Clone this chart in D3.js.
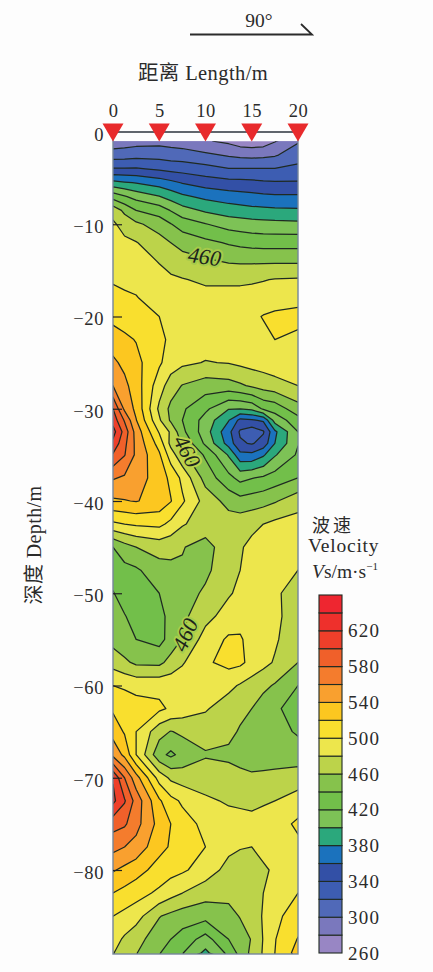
<!DOCTYPE html>
<html><head><meta charset="utf-8">
<script src="https://cdn.jsdelivr.net/npm/d3@7"></script>
<style>
html,body{margin:0;padding:0;background:#fdfdfd}
svg{display:block}
text{font-family:"Liberation Serif","Noto Sans CJK SC",serif;fill:#2b2b2b}
</style></head><body>
<svg id="c" width="433" height="972"></svg>
<script>
const lengths=[0,1.25,2.5,5,6.25,7.5,10,12.5,13.75,15,16.25,17.5,20];
const depths=[1,2.5,4,5.5,7,8.5,10,12,14,16,18,20,22.5,25,27.5,30,31.25,32.5,33.75,35,37.5,40,42.5,45,47.5,50,52.5,55,57.5,60,62.5,65,67.5,70,72.5,75,77.5,80,82.5,85,87.5,89];
const velocity=[
[288,290,292,294,292,290,282,276,270,268,270,279,298],
[310,311,313,312,310,309,304,298,295,294,295,298,311],
[342,342,342,337,334,332,327,321,321,321,321,321,325],
[386,382,379,371,365,359,351,347,346,345,343,342,342],
[432,422,413,401,392,384,375,370,368,366,364,363,363],
[473,455,440,431,419,408,397,390,388,386,385,384,383],
[483,473,464,451,441,431,421,412,410,408,407,406,405],
[488,484,481,468,460,453,445,438,435,433,432,432,432],
[493,490,488,479,473,468,463,458,457,457,457,457,457],
[498,496,495,486,483,481,477,477,477,478,479,481,482],
[506,503,501,492,489,488,486,486,486,486,489,493,496],
[514,511,508,500,494,490,488,489,491,496,501,503,504],
[530,524,519,505,496,492,489,489,490,491,495,500,497],
[544,535,526,503,490,484,479,481,484,487,489,492,494],
[560,545,530,489,470,459,450,452,457,463,468,472,480],
[600,556,535,476,455,443,424,401,401,405,423,428,452],
[612,578,541,483,457,440,412,381,354,357,363,408,432],
[628,592,552,498,477,445,409,366,337,328,338,376,420],
[615,585,555,512,474,458,416,372,343,338,348,380,419],
[598,581,556,523,490,465,437,398,366,365,377,398,423],
[562,557,549,531,515,495,452,426,414,419,423,429,440],
[537,539,541,533,521,503,472,453,447,450,453,458,472],
[496,500,503,505,495,482,470,470,472,475,480,485,488],
[440,452,460,468,465,461,453,471,478,485,488,490,492],
[432,434,437,452,456,458,456,472,480,485,487,488,480],
[441,432,425,440,447,452,463,478,484,488,486,483,472],
[448,441,433,435,445,455,474,488,490,490,487,484,471],
[453,446,440,433,448,461,488,503,503,490,486,483,465],
[472,464,456,455,467,478,497,506,504,494,486,478,460],
[500,497,494,494,493,492,495,485,478,471,465,458,440],
[517,513,508,504,497,491,482,470,465,460,450,443,432],
[532,518,500,468,459,464,469,465,458,450,448,446,438],
[555,535,500,446,436,446,458,456,452,448,449,450,448],
[618,580,548,492,476,471,471,468,466,464,465,466,471],
[625,602,572,523,506,497,483,478,477,476,478,480,488],
[588,583,567,533,520,508,495,487,486,485,487,490,504],
[566,560,553,526,518,510,500,485,481,480,484,488,495],
[542,535,528,512,507,503,491,473,472,472,478,482,490],
[520,514,508,496,487,480,468,465,467,470,480,487,500],
[500,494,488,461,455,450,447,454,461,468,482,495,510],
[488,477,467,449,440,432,412,440,452,461,481,499,521],
[481,470,461,441,431,421,395,425,447,465,482,500,528]
];
const levels=d3.range(260,660,20);
const levelColors=["#9886c4","#7a78bd","#5069b8","#3d5db2","#3350a6","#1b72bd","#2ba87c","#7dc256","#72bf4a","#86c24c","#bcd34a","#ede64c","#f9df2e","#fcc720","#f9a02f","#f47c2d","#f0602a","#ee3f2a","#ee302c","#ee2630"];
const legendTicks=[260,300,340,380,420,460,500,540,580,620];
const topTicks=[0,5,10,15,20];
const depthTicks=[0,-10,-20,-30,-40,-50,-60,-70,-80];
const contourLabels=[{text:"460",len:9.9,dep:13.5,rot:8,halo:"#a5cb4b"},{text:"460",len:8.0,dep:34.6,rot:62,halo:"#bcd34a"},{text:"460",len:7.8,dep:54.5,rot:-66,halo:"#a8cd4b"}];

const svg=d3.select("#c");
const x=d3.scaleLinear().domain([0,20]).range([113,298]);
const y=d3.scaleLinear().domain([0,-80]).range([132,870]);
const xIdx=d3.scaleLinear().domain(lengths.map((_,i)=>i)).range(lengths.map(x));
const yIdx=d3.scaleLinear().domain(depths.map((_,i)=>i)).range(depths.map(d=>y(-d)));
const color=d3.scaleOrdinal().domain(levels).range(levelColors);
const nx=lengths.length,ny=depths.length;
const contours=d3.contours().size([nx,ny]).thresholds(levels)(velocity.flat());
const path=d3.geoPath(d3.geoTransform({point(a,b){this.stream.point(xIdx(a-.5),yIdx(b-.5));}}));
const plotBottom=954,dataTop=y(-depths[0]);
svg.append("clipPath").attr("id","clip").append("rect").attr("x",x(0)).attr("y",dataTop).attr("width",x(20)-x(0)).attr("height",plotBottom-dataTop);
const plot=svg.append("g").attr("clip-path","url(#clip)");
plot.selectAll("path").data(contours).join("path").attr("d",path)
  .attr("fill",d=>color(d.value)).attr("stroke","#1f2a22").attr("stroke-width",1.25).attr("stroke-linejoin","round");

// frame
svg.append("rect").attr("x",x(0)).attr("y",y(0)).attr("width",x(20)-x(0)).attr("height",plotBottom-y(0)).attr("fill","none").attr("stroke","#76869a").attr("stroke-width",1.4);
svg.append("line").attr("x1",x(0)).attr("x2",x(20)).attr("y1",y(0)).attr("y2",y(0)).attr("stroke","#222").attr("stroke-width",1.2);

// contour labels
contourLabels.forEach(l=>{
  svg.append("text").attr("transform",`translate(${x(l.len)},${y(-l.dep)}) rotate(${l.rot})`)
    .attr("text-anchor","middle").attr("dy","0.34em").attr("font-size",22).attr("font-style","italic")
    .attr("stroke",l.halo).attr("stroke-width",4).attr("paint-order","stroke").attr("stroke-linejoin","round")
    .style("fill","#1c241c").text(l.text);
});

// axes
const axTop=svg.append("g").attr("transform",`translate(0,${y(0)-15})`)
  .call(d3.axisTop(x).tickValues(topTicks).tickSize(0).tickFormat(d3.format("d")));
axTop.select(".domain").remove();
axTop.selectAll("text").attr("font-size",18.5).attr("letter-spacing",0.5).attr("dy",0).attr("y",0);
const axLeft=svg.append("g").attr("transform",`translate(${x(0)},0)`)
  .call(d3.axisLeft(y).tickValues(depthTicks).tickSize(-9).tickPadding(9));
axLeft.select(".domain").remove();
axLeft.selectAll("line").attr("stroke","#222").attr("stroke-width",1.2);
axLeft.selectAll(".tick").filter(d=>d===0).select("line").remove();
axLeft.selectAll("text").attr("font-size",18.5).attr("letter-spacing",0.6).attr("dy","0.45em");
svg.selectAll("g").attr("font-family",null);

// station triangles
const tri=d3.symbol().type(d3.symbolTriangle).size(190);
svg.append("g").selectAll("path").data(topTicks).join("path")
  .attr("d",tri).attr("transform",d=>`translate(${x(d)},${y(0)-2.5}) rotate(180)`).attr("fill","#e82a2c");

// titles
svg.append("text").attr("x",259).attr("y",27).attr("text-anchor","middle").attr("font-size",19.5).text("90°");
svg.append("path").attr("d","M190,34.5H312L301,24").attr("fill","none").attr("stroke","#2b2b2b").attr("stroke-width",1.8);
svg.append("text").attr("x",203).attr("y",80).attr("text-anchor","middle").attr("font-size",20.5).attr("letter-spacing",0.4).text("距离 Length/m");
svg.append("text").attr("transform","translate(41,545) rotate(-90)").attr("text-anchor","middle").attr("font-size",20).attr("letter-spacing",0.4).text("深度 Depth/m");

// legend
const lg=d3.scaleLinear().domain([260,660]).range([953,595]);
svg.append("g").selectAll("rect").data(levels).join("rect")
  .attr("x",319).attr("width",23).attr("y",d=>lg(d+20)).attr("height",d=>lg(d)-lg(d+20))
  .attr("fill",d=>color(d)).attr("stroke","#1f2a22").attr("stroke-width",1.1);
const axLg=svg.append("g").attr("transform","translate(342,0)")
  .call(d3.axisRight(lg).tickValues(legendTicks).tickSize(0).tickPadding(6));
axLg.select(".domain").remove();
axLg.selectAll("text").attr("font-size",19).attr("letter-spacing",1.2);
svg.append("text").attr("x",312).attr("y",532).attr("font-size",18).attr("letter-spacing",3).text("波速");
svg.append("text").attr("x",308).attr("y",552).attr("font-size",19.5).attr("letter-spacing",0.8).text("Velocity");
const vt=svg.append("text").attr("x",312).attr("y",578).attr("font-size",19.5);
vt.append("tspan").attr("font-style","italic").text("V");
vt.append("tspan").text("s/m·s");
vt.append("tspan").attr("font-size",11).attr("dy",-8).text("−1");
</script></body></html>
